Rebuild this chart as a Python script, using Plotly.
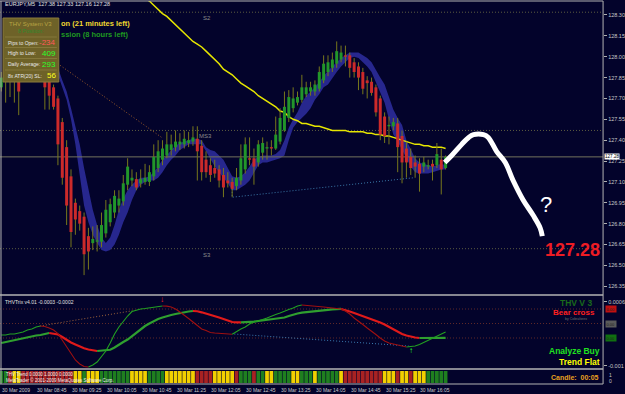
import plotly.graph_objects as go

W, H = 625, 394
def px(x): return x / W
def py(y): return 1 - y / H

FONT = "Liberation Sans, Arial, sans-serif"
BG = "#03032b"

# ---------------- data ----------------
symbol_header = "EURJPY,M5  127.38 127.33 127.16 127.28"
time_labels = ["30 Mar 2009", "30 Mar 08:45", "30 Mar 09:25", "30 Mar 10:05", "30 Mar 10:45",
               "30 Mar 11:25", "30 Mar 12:05", "30 Mar 12:45", "30 Mar 13:25", "30 Mar 14:05",
               "30 Mar 14:45", "30 Mar 15:25", "30 Mar 16:05"]
time_label_bars = [0, 8, 16, 24, 32, 40, 48, 56, 64, 72, 80, 88, 96]

opens = [127.78, 127.90, 127.89, 127.87, 127.85, 127.83, 127.90, 127.94, 127.89, 127.92,
         127.87, 127.82, 127.78, 127.70, 127.53, 127.35, 127.14, 126.95, 126.89, 126.85,
         126.71, 126.66, 126.67, 126.67, 126.73, 126.81, 126.88, 126.93, 126.96, 127.08,
         127.11, 127.12, 127.09, 127.10, 127.10, 127.14, 127.20, 127.26, 127.29, 127.33,
         127.35, 127.37, 127.37, 127.38, 127.39, 127.41, 127.36, 127.26, 127.22, 127.20,
         127.19, 127.15, 127.11, 127.10, 127.07, 127.11, 127.19, 127.27, 127.27, 127.24,
         127.31, 127.34, 127.35, 127.34, 127.39, 127.47, 127.56, 127.63, 127.67, 127.69,
         127.73, 127.75, 127.75, 127.77, 127.83, 127.89, 127.92, 127.95, 127.98, 128.01,
         128.01, 127.96, 127.93, 127.89, 127.83, 127.82, 127.78, 127.70, 127.57, 127.50,
         127.50, 127.52, 127.43, 127.34, 127.28, 127.24, 127.23, 127.21, 127.21, 127.23,
         127.22, 127.26, 127.20]
highs = [127.89, 127.94, 127.96, 127.98, 127.90, 127.93, 127.99, 127.98, 127.96, 127.95,
         127.89, 127.85, 127.80, 127.72, 127.56, 127.40, 127.19, 126.98, 126.93, 126.88,
         126.77, 126.78, 126.79, 126.88, 126.97, 126.98, 127.04, 127.04, 127.15, 127.27,
         127.19, 127.17, 127.19, 127.23, 127.22, 127.37, 127.40, 127.40, 127.46, 127.44,
         127.47, 127.45, 127.47, 127.46, 127.50, 127.50, 127.40, 127.32, 127.27, 127.26,
         127.22, 127.20, 127.17, 127.13, 127.20, 127.37, 127.42, 127.42, 127.34, 127.40,
         127.42, 127.39, 127.40, 127.57, 127.63, 127.75, 127.76, 127.78, 127.75, 127.87,
         127.82, 127.82, 127.83, 127.93, 128.01, 128.01, 128.03, 128.11, 128.08, 128.08,
         128.03, 127.99, 127.96, 127.92, 127.86, 127.85, 127.80, 127.72, 127.60, 127.57,
         127.56, 127.56, 127.47, 127.39, 127.34, 127.29, 127.27, 127.28, 127.26, 127.26,
         127.38, 127.34, 127.29]
lows = [127.75, 127.67, 127.71, 127.67, 127.58, 127.82, 127.86, 127.85, 127.83, 127.83,
        127.62, 127.62, 127.62, 127.22, 127.08, 126.79, 126.63, 126.72, 126.75, 126.43,
        126.47, 126.61, 126.60, 126.63, 126.70, 126.78, 126.84, 126.88, 126.93, 127.04,
        127.07, 127.04, 127.06, 127.08, 127.07, 127.11, 127.17, 127.22, 127.27, 127.29,
        127.32, 127.33, 127.34, 127.35, 127.36, 127.11, 127.11, 127.13, 127.10, 127.13,
        127.06, 126.99, 127.06, 126.99, 127.04, 127.08, 127.16, 127.22, 127.08, 127.21,
        127.26, 127.26, 127.29, 127.33, 127.37, 127.46, 127.53, 127.60, 127.65, 127.67,
        127.71, 127.72, 127.72, 127.75, 127.81, 127.86, 127.89, 127.92, 127.96, 127.93,
        127.85, 127.85, 127.76, 127.73, 127.70, 127.72, 127.57, 127.40, 127.38, 127.37,
        127.47, 127.17, 127.09, 127.13, 127.15, 127.13, 127.03, 127.17, 127.19, 127.11,
        127.20, 127.01, 127.19]
closes = [127.85, 127.85, 127.86, 127.90, 127.75, 127.90, 127.94, 127.89, 127.92, 127.88,
          127.78, 127.72, 127.64, 127.37, 127.13, 126.93, 126.74, 126.83, 126.80, 126.58,
          126.60, 126.69, 126.68, 126.79, 126.90, 126.94, 127.00, 126.98, 127.09, 127.21,
          127.13, 127.06, 127.12, 127.13, 127.17, 127.28, 127.32, 127.34, 127.37, 127.37,
          127.39, 127.39, 127.41, 127.40, 127.42, 127.32, 127.17, 127.17, 127.15, 127.16,
          127.11, 127.06, 127.09, 127.05, 127.13, 127.27, 127.37, 127.26, 127.21, 127.37,
          127.38, 127.35, 127.34, 127.44, 127.56, 127.64, 127.71, 127.70, 127.71, 127.78,
          127.78, 127.78, 127.80, 127.89, 127.95, 127.96, 127.98, 128.04, 128.03, 128.00,
          127.92, 127.89, 127.85, 127.77, 127.81, 127.74, 127.60, 127.44, 127.43, 127.51,
          127.53, 127.35, 127.24, 127.24, 127.20, 127.21, 127.16, 127.24, 127.22, 127.21,
          127.30, 127.19, 127.28]

band_first_bar = 12
band_upper = [127.96, 127.92, 127.83, 127.75, 127.63, 127.51, 127.37, 127.20, 127.04, 126.90,
              126.79, 126.70, 126.66, 126.70, 126.79, 126.90, 126.98, 127.04, 127.08, 127.11,
              127.13, 127.13, 127.14, 127.17, 127.21, 127.26, 127.29, 127.33, 127.36, 127.38,
              127.39, 127.40, 127.41, 127.41, 127.40, 127.35, 127.33, 127.32, 127.29, 127.26,
              127.20, 127.14, 127.13, 127.14, 127.17, 127.21, 127.26, 127.28, 127.29, 127.29,
              127.29, 127.30, 127.33, 127.40, 127.49, 127.55, 127.60, 127.67, 127.72, 127.75,
              127.78, 127.82, 127.86, 127.90, 127.93, 127.96, 127.99, 128.01, 128.03, 128.03,
              128.03, 128.01, 127.99, 127.96, 127.90, 127.85, 127.80, 127.71, 127.62, 127.56,
              127.51, 127.40, 127.33, 127.27, 127.24, 127.23, 127.22, 127.21, 127.22, 127.23,
              127.22]
band_lower = [127.90, 127.87, 127.78, 127.69, 127.55, 127.37, 127.15, 126.93, 126.81, 126.72,
              126.66, 126.61, 126.60, 126.61, 126.65, 126.72, 126.81, 126.88, 126.97, 127.04,
              127.08, 127.10, 127.11, 127.11, 127.13, 127.17, 127.22, 127.26, 127.29, 127.33,
              127.35, 127.37, 127.37, 127.37, 127.37, 127.32, 127.26, 127.21, 127.17, 127.13,
              127.09, 127.04, 127.04, 127.06, 127.08, 127.11, 127.17, 127.22, 127.24, 127.24,
              127.25, 127.26, 127.27, 127.29, 127.40, 127.49, 127.53, 127.56, 127.59, 127.63,
              127.69, 127.73, 127.78, 127.80, 127.85, 127.89, 127.93, 127.96, 127.99, 128.00,
              127.99, 127.96, 127.93, 127.89, 127.82, 127.75, 127.67, 127.55, 127.44, 127.39,
              127.33, 127.27, 127.21, 127.17, 127.16, 127.16, 127.16, 127.17, 127.18, 127.19,
              127.19]

slow_ma_first_bar = 33
slow_ma = [128.42, 128.40, 128.37, 128.34, 128.31, 128.29, 128.26, 128.23, 128.20, 128.17,
           128.14, 128.11, 128.09, 128.07, 128.04, 128.01, 127.98, 127.95, 127.91, 127.89,
           127.87, 127.84, 127.81, 127.79, 127.77, 127.75, 127.72, 127.70, 127.68, 127.66,
           127.64, 127.61, 127.60, 127.57, 127.55, 127.54, 127.52, 127.52, 127.51, 127.50,
           127.50, 127.49, 127.48, 127.47, 127.47, 127.47, 127.47, 127.46, 127.46, 127.46,
           127.46, 127.45, 127.45, 127.44, 127.44, 127.43, 127.43, 127.42, 127.41, 127.40,
           127.39, 127.38, 127.37, 127.37, 127.36, 127.36, 127.35, 127.35, 127.35, 127.34]

pivot_names = ["S2", "MS3", "S3"]
pivot_levels = [128.32, 127.47, 126.62]
last_price = 127.28
price_ticks = [128.30, 128.15, 128.00, 127.85, 127.70, 127.55, 127.40, 127.25,
               127.10, 126.95, 126.80, 126.65, 126.50, 126.35]

# drawn trend lines (bar index, price)
trend_down_bars = [12.97, 36.8]
trend_down_prices = [127.95, 127.42]
trend_low_bars = [53.0, 53.0, 94.7]
trend_low_prices = [127.05, 126.99, 127.13]

# white freehand sketch (bar index, price)
sketch_bars = [101.8, 103.4, 105.7, 107.3, 108.4, 110.7, 111.8, 113.7, 115.7, 117.5, 119.8, 122.1, 123.7, 124.2]
sketch_prices = [127.24, 127.29, 127.37, 127.42, 127.44, 127.44, 127.42, 127.32, 127.24, 127.11,
                 126.97, 126.86, 126.77, 126.71]

# THVTrix oscillator, in units of 1e-4
trix_fast = [-3.17, -3.17, -2.90, -2.90, -2.62, -2.34, -1.79, -1.52, -0.97, -0.69,
             -0.83, -1.24, -1.79, -2.76, -4.55, -6.48, -8.14, -10.07, -11.17, -11.86,
             -12.00, -11.45, -10.62, -9.24, -7.59, -5.38, -2.90, -0.97, 0.69, 2.07,
             3.31, 3.72, 4.00, 4.14, 4.28, 4.55, 4.69, 4.83, 4.80, 4.55,
             4.00, 3.17, 2.34, 1.38, 0.41, -0.69, -1.52, -1.93, -2.48, -2.62,
             -2.76, -2.90, -2.95, -2.97, -2.21, -1.52, -0.97, -0.14, 0.41, 0.69,
             1.10, 1.52, 2.07, 2.48, 2.90, 3.45, 3.86, 4.28, 4.83, 5.10,
             5.02, 4.94, 4.83, 4.69, 4.55, 4.41, 4.28, 4.14, 4.00, 3.45,
             2.62, 1.52, 0.69, -0.28, -1.24, -2.07, -3.03, -4.00, -4.83, -5.38,
             -5.66, -5.93, -6.21, -6.48, -6.34, -6.21, -5.79, -5.24, -4.55, -4.00,
             -3.45, -2.90, -2.34]
trix_slow = [-5.38, -5.10, -4.83, -4.55, -4.28, -4.00, -3.86, -3.59, -3.31, -3.17,
             -2.90, -2.62, -2.76, -3.03, -3.72, -4.55, -5.24, -5.79, -6.34, -6.84,
             -7.17, -7.45, -7.59, -7.53, -7.39, -7.23, -6.62, -5.79, -5.10, -4.41,
             -3.45, -2.48, -1.52, -0.69, 0.00, 0.69, 1.24, 1.66, 2.07, 2.34,
             2.62, 2.90, 3.09, 3.31, 3.45, 3.39, 3.09, 2.76, 2.48, 2.07,
             1.66, 1.24, 0.83, 0.41, 0.33, 0.30, 0.33, 0.39, 0.50, 0.69,
             0.83, 0.97, 1.10, 1.24, 1.43, 1.66, 2.07, 2.48, 2.76, 3.01,
             3.17, 3.31, 3.45, 3.56, 3.67, 3.78, 3.89, 4.00, 4.02, 3.72,
             3.31, 2.90, 2.48, 2.07, 1.66, 1.24, 0.83, 0.28, -0.28, -0.97,
             -1.66, -2.34, -2.90, -3.31, -3.64, -3.86, -4.00, -3.99, -3.98, -3.97,
             -3.96, -3.95, -3.94]
trix_levels = [4.0, 0.0, -4.0]
trix_trend_up_bars = [8.86, 30.1]
trix_trend_up_vals = [-0.69, 3.52]
trix_trend_dn_bars = [53.5, 93.5]
trix_trend_dn_vals = [-2.90, -6.20]
sell_arrow = (36.8, 6.76)
buy_arrow = (94.0, -7.31)

# THV trend colour bar state per candle
trend_state = list("GGRYY" + "RRRRRRRRRRRR" + "YYGYYY" + "GGGGGGG" + "YYYY" + "GGGG" + "YYYYYYY"
                   + "RRRR" + "YYYYY" + "RGGGRGGYY" + "GGGGYYGGGY" + "GGGGGY" + "RRRRRRRRR"
                   + "YYYRYYRYYY" + "GGGGG")

n = len(opens)
assert len(highs) == n and len(lows) == n and len(closes) == n
assert len(trix_fast) == n and len(trix_slow) == n and len(trend_state) == n
bars = list(range(n))

# ---------------- figure ----------------
fig = go.Figure()
X_DOM = [0, px(605)]
XR = [-0.3, 138.15]

def sc(**kw):
    kw.setdefault("hoverinfo", "skip")
    kw.setdefault("showlegend", False)
    fig.add_trace(go.Scatter(**kw))

# pivot lines
for lvl in pivot_levels:
    sc(x=XR, y=[lvl, lvl], mode="lines", line=dict(color="#5c5c40", width=1, dash="1px,2px"))

# blue band
band_x = list(range(band_first_bar, band_first_bar + len(band_upper)))
sc(x=band_x, y=band_lower, mode="lines", line=dict(width=0, color="#26268c"))
sc(x=band_x, y=band_upper, mode="lines", line=dict(width=0, color="#26268c"), fill="tonexty", fillcolor="#27278e")

# last price line
sc(x=XR, y=[last_price, last_price], mode="lines", line=dict(color="#74745e", width=1))

# trend lines
sc(x=trend_down_bars, y=trend_down_prices, mode="lines", line=dict(color="#9a5a2a", width=1, dash="1px,2px"))
sc(x=trend_low_bars, y=trend_low_prices, mode="lines", line=dict(color="#3a78a8", width=1, dash="1px,2px"))

# slow MA
ma_x = list(range(slow_ma_first_bar, slow_ma_first_bar + len(slow_ma)))
sc(x=ma_x, y=slow_ma, mode="lines", line=dict(color="#e6e600", width=1.5))

# candle wicks
wx, wy = [], []
for i in bars:
    wx += [i, i, None]
    wy += [lows[i], highs[i], None]
sc(x=wx, y=wy, mode="lines", line=dict(color="#78781c", width=1))

# candle bodies drawn as thick segments so that they sit above the wicks and band
groups = {"#22962a": ([], []), "#cc2a2a": ([], []), "#8a8a2a": ([], [])}
for i in bars:
    lo, hi = min(opens[i], closes[i]), max(opens[i], closes[i])
    if hi - lo < 0.006:
        mid = (hi + lo) / 2
        lo, hi = mid - 0.003, mid + 0.003
    if closes[i] > opens[i]:
        c = "#22962a"
    elif closes[i] < opens[i]:
        c = "#cc2a2a"
    else:
        c = "#8a8a2a"
    groups[c][0].extend([i, i, None])
    groups[c][1].extend([lo, hi, None])
for c, (gx, gy) in groups.items():
    sc(x=gx, y=gy, mode="lines", line=dict(color=c, width=3))

# freehand sketch
sc(x=sketch_bars, y=sketch_prices, mode="lines", line=dict(color="white", width=5, shape="spline"))

# ---------- oscillator panel ----------
for lvl in trix_levels:
    sc(x=XR, y=[lvl, lvl], mode="lines", xaxis="x2", yaxis="y2",
       line=dict(color="#5e2828", width=1, dash="1px,2px"))
sc(x=trix_trend_up_bars, y=trix_trend_up_vals, mode="lines", xaxis="x2", yaxis="y2",
   line=dict(color="#a0643a", width=1, dash="1px,2px"))
sc(x=trix_trend_dn_bars, y=trix_trend_dn_vals, mode="lines", xaxis="x2", yaxis="y2",
   line=dict(color="#3a7ab0", width=1, dash="1px,2px"))

def add_colored(vals, up, dn, width):
    k = 0
    col = lambda t: up if vals[t + 1] >= vals[t] else dn
    while k < len(vals) - 1:
        c = col(k)
        j = k
        while j < len(vals) - 1 and col(j) == c:
            j += 1
        xs = list(range(k, j + 1))
        sc(x=xs, y=[vals[t] for t in xs], mode="lines", xaxis="x2", yaxis="y2",
           line=dict(color=c, width=width))
        k = j

add_colored(trix_slow, "#2f9f2f", "#e01a1a", 2.2)
add_colored(trix_fast, "#22a022", "#a01010", 1.1)

# ---------- trend colour bar ----------
state_col = {"G": "#1f7f1f", "R": "#a82222", "Y": "#f2d000"}
fig.add_trace(go.Bar(x=bars, y=[1] * n, xaxis="x3", yaxis="y3", width=0.86,
                     marker=dict(color=[state_col[s] for s in trend_state], line=dict(width=0)),
                     hoverinfo="skip", showlegend=False))

axis_font = dict(family=FONT, size=5.5, color="#c8c8c8")
fig.update_layout(
    width=W, height=H, margin=dict(l=0, r=0, t=0, b=0),
    paper_bgcolor=BG, plot_bgcolor=BG, barmode="overlay", showlegend=False,
    xaxis=dict(domain=X_DOM, range=XR, visible=False, anchor="y"),
    yaxis=dict(domain=[py(291), py(1)], range=[126.3158, 128.4006], side="right", anchor="x",
               tickvals=price_ticks, ticktext=[f"{v:.2f}" for v in price_ticks],
               showgrid=False, zeroline=False, ticks="outside", ticklen=3, tickcolor="#b0b0b0",
               tickfont=axis_font),
    xaxis2=dict(domain=X_DOM, range=XR, visible=False, anchor="y2"),
    yaxis2=dict(domain=[py(369), py(296)], range=[-12.55, 7.59], side="right", anchor="x2",
                tickvals=[6, -11.7], ticktext=["0.0006", "-0.001"], showgrid=False, zeroline=False,
                ticks="outside", ticklen=3, tickcolor="#b0b0b0", tickfont=axis_font),
    xaxis3=dict(domain=X_DOM, range=XR, visible=False, anchor="y3"),
    yaxis3=dict(domain=[py(383), py(371)], range=[0, 1], visible=False, anchor="x3"),
)

shapes = []
line_col = "#b4b4b4"
for yy in [1, 295, 369, 384]:
    shapes.append(dict(type="line", xref="paper", yref="paper", x0=px(0), x1=px(605), y0=py(yy), y1=py(yy),
                       line=dict(color=line_col, width=1.5 if yy in (295, 369) else 1)))
shapes.append(dict(type="line", xref="paper", yref="paper", x0=px(605), x1=px(605), y0=py(1), y1=py(384),
                   line=dict(color=line_col, width=1)))
shapes.append(dict(type="line", xref="paper", yref="paper", x0=px(1), x1=px(1), y0=py(1), y1=py(384),
                   line=dict(color=line_col, width=1)))
# info box
shapes.append(dict(type="rect", xref="paper", yref="paper", x0=px(3), x1=px(59), y0=py(82), y1=py(18),
                   fillcolor="#6e6228", line=dict(color="#8a7a3a", width=1), layer="above"))
for yy in [37, 47.5, 58.5, 70]:
    shapes.append(dict(type="line", xref="paper", yref="paper", x0=px(5), x1=px(57), y0=py(yy), y1=py(yy),
                       line=dict(color="#8c7e40", width=0.8), layer="above"))
fig.update_layout(shapes=shapes)

ann = []
def text(x, y, s, size, color, anchor="left", bold=False, **kw):
    ann.append(dict(xref="paper", yref="paper", x=px(x), y=py(y), text=(f"<b>{s}</b>" if bold else s),
                    showarrow=False, xanchor=anchor, yanchor="middle",
                    font=dict(family=FONT, size=size, color=color), **kw))

text(3, 4.5, symbol_header, 5.5, "#e0e0e0")
text(59, 24, "on (21 minutes left)", 7.5, "#f0d830", bold=True)
text(59, 34.5, "ssion (8 hours left)", 7.5, "#1f9a1f", bold=True)
# info box contents
text(31, 24, "THV System V3", 6, "#b8a444", anchor="center")
text(31, 31.5, "8 Position:", 5.5, "#2e8a2e", anchor="center")
rows = [("Pips to Open:", "-234", "#ff5a5a", 42.5), ("High to Low:", "409", "#2cff2c", 53),
        ("Daily Average:", "293", "#2cff2c", 64), ("8x ATR(20) SL:", "56", "#ffff20", 75.5)]
for lab, val, c, yy in rows:
    text(6, yy, lab, 5, "#e8e8e8")
    text(58.5, yy, val, 8, c, anchor="right")

for name, lvl, xx in zip(pivot_names, pivot_levels, [202, 198, 202]):
    ann.append(dict(xref="paper", yref="y", x=px(xx), y=lvl, text=name, showarrow=False, xanchor="left",
                    yanchor="top", yshift=-1, font=dict(family=FONT, size=6, color="#8c8c8c")))

# sketch annotations
text(548, 205, "?", 22, "white", anchor="center")
text(604, 249.5, "127.28", 18, "#ee1c24", anchor="right", bold=True)

# last price label on axis
text(606, 156.3, f"{last_price:.2f}", 4.6, "#000000", bgcolor="#ffffff", borderpad=0)

# oscillator texts
text(578, 303, "THV V 3", 8.5, "#1a6a1a", anchor="center", bold=True)
text(576, 312, "Bear cross", 8, "#ff2020", anchor="center", bold=True)
text(578, 318.5, "by Cobraforex", 3.5, "#707070", anchor="center")
text(3, 302, "THVTrix v4.01 -0.0003 -0.0002", 5, "#e0e0e0")
text(604, 350.5, "Analyze Buy", 8.5, "#20e020", anchor="right", bold=True)
text(604, 362, "Trend Flat", 8.5, "#ffff00", anchor="right", bold=True)
for yy, bg in [(309, "#c01010"), (323.5, "#5a5a5a"), (338, "#107010")]:
    text(607, yy, "0.00", 4, "#202020", bgcolor=bg, borderpad=0.5)
ann.append(dict(xref="x2", yref="y2", x=sell_arrow[0], y=sell_arrow[1], text="<b>↓</b>", showarrow=False,
                font=dict(family=FONT, size=8, color="#ff2020")))
ann.append(dict(xref="x2", yref="y2", x=buy_arrow[0], y=buy_arrow[1], text="<b>↑</b>", showarrow=False,
                font=dict(family=FONT, size=8, color="#20ff20")))

# colour bar texts
text(4, 374.5, "THV Trend 0.0000 1.0000 0.0000", 4.5, "#f0f0f0")
text(4, 380, "MetaTrader © 2001-2009 MetaQuotes Software Corp.", 4.5, "#f0f0f0")
text(603, 377, "Candle:  00:05", 7, "#e8a020", anchor="right", bold=True)
text(609, 375, "1", 5, "#c8c8c8")
text(609, 381, "0", 5, "#c8c8c8")

# time axis labels
for b, lab in zip(time_label_bars, time_labels):
    ann.append(dict(xref="x3", yref="paper", x=b, y=py(389.5), text=lab, showarrow=False, xanchor="left",
                    yanchor="middle", xshift=-1, font=dict(family=FONT, size=5, color="#c8c8c8")))

fig.update_layout(annotations=ann)
fig.write_html("out.html")
